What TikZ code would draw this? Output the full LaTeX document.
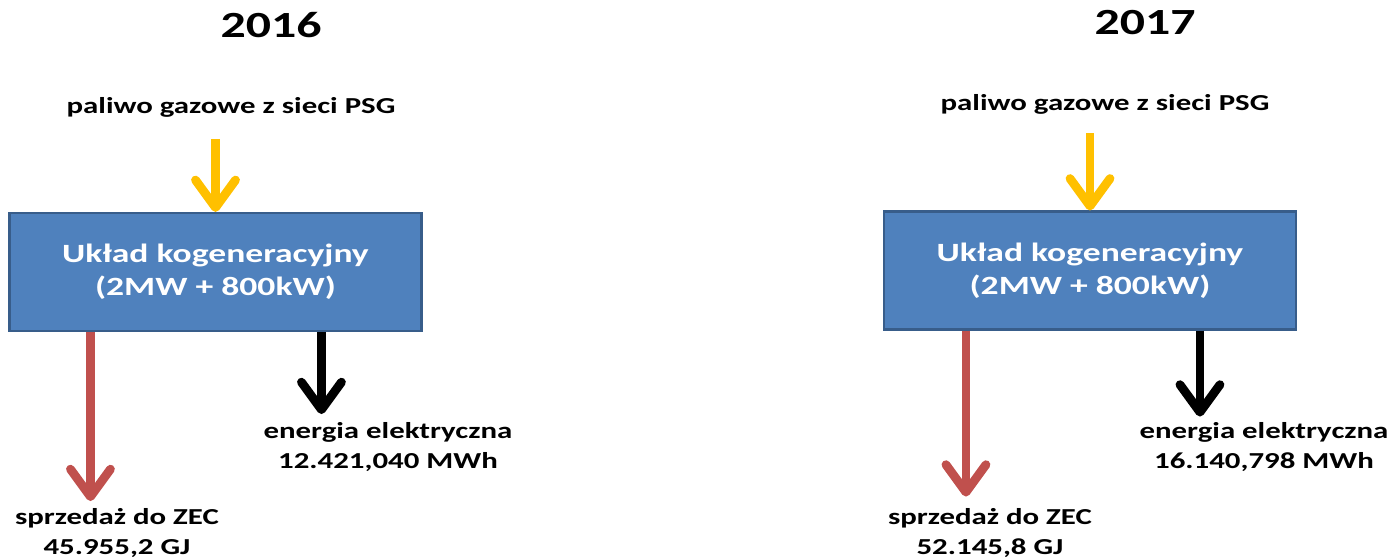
\documentclass[tikz,border=0pt]{standalone}
\usepackage{fontspec}
\setmainfont{Carlito}[FakeStretch=1.35]
\usetikzlibrary{arrows.meta,positioning,calc}
\definecolor{boxfill}{RGB}{79,129,189}
\definecolor{boxline}{RGB}{56,93,138}
\definecolor{fuelyellow}{RGB}{255,192,0}
\definecolor{heatred}{RGB}{192,80,77}

\begin{document}
\begin{tikzpicture}[font=\bfseries,
  unit/.style={draw=boxline,fill=boxfill,line width=1.2pt,minimum width=8.24cm,minimum height=2.36cm,
    text=white,align=center,font=\fontsize{15}{19}\selectfont\bfseries},
  year/.style={anchor=base,font=\fontsize{21}{25}\selectfont\bfseries},
  lbl/.style={anchor=base,align=center,inner sep=0pt,font=\fontsize{13}{17}\selectfont\bfseries},
  flow/.style={line width=5pt,-{Straight Barb[length=5.5mm,width=8mm,round]}}]
  \useasboundingbox (0,0) rectangle (27.92,-11.14);
  % 2016
  \node[year] (title16) at (5.42,-0.74) {2016};
  \node[lbl] (fuel16) at (4.62,-2.26) {paliwo gazowe z sieci PSG};
  \node[unit] (box16) at (4.31,-5.44) {Układ kogeneracyjny\\(2MW + 800kW)};
  \coordinate (in16) at ($(box16.north)+(0,1.46)$);
  \coordinate (heat16) at ($(box16.south west)+(1.64,-3.38)$);
  \coordinate (el16) at ($(box16.south west)+(6.26,-1.64)$);
  \node[lbl] (sale16) at (2.34,-11.08) {sprzedaż do ZEC\\45.955,2 GJ};
  \node[lbl] (elec16) at (7.76,-9.36) {energia elektryczna\\12.421,040 MWh};
  \draw[flow,fuelyellow] (in16) -- (box16.north);
  \draw[flow,heatred] (heat16 |- box16.south) -- (heat16);
  \draw[flow] (el16 |- box16.south) -- (el16);
  % 2017
  \node[year] (title17) at (22.9,-0.68) {2017};
  \node[lbl] (fuel17) at (22.1,-2.2) {paliwo gazowe z sieci PSG};
  \node[unit] (box17) at (21.8,-5.41) {Układ kogeneracyjny\\(2MW + 800kW)};
  \coordinate (in17) at ($(box17.north)+(0,1.54)$);
  \coordinate (heat17) at ($(box17.south west)+(1.66,-3.32)$);
  \coordinate (el17) at ($(box17.south west)+(6.34,-1.72)$);
  \node[lbl] (sale17) at (19.8,-11.08) {sprzedaż do ZEC\\52.145,8 GJ};
  \node[lbl] (elec17) at (25.28,-9.36) {energia elektryczna\\16.140,798 MWh};
  \draw[flow,fuelyellow] (in17) -- (box17.north);
  \draw[flow,heatred] (heat17 |- box17.south) -- (heat17);
  \draw[flow] (el17 |- box17.south) -- (el17);
\end{tikzpicture}
\end{document}
